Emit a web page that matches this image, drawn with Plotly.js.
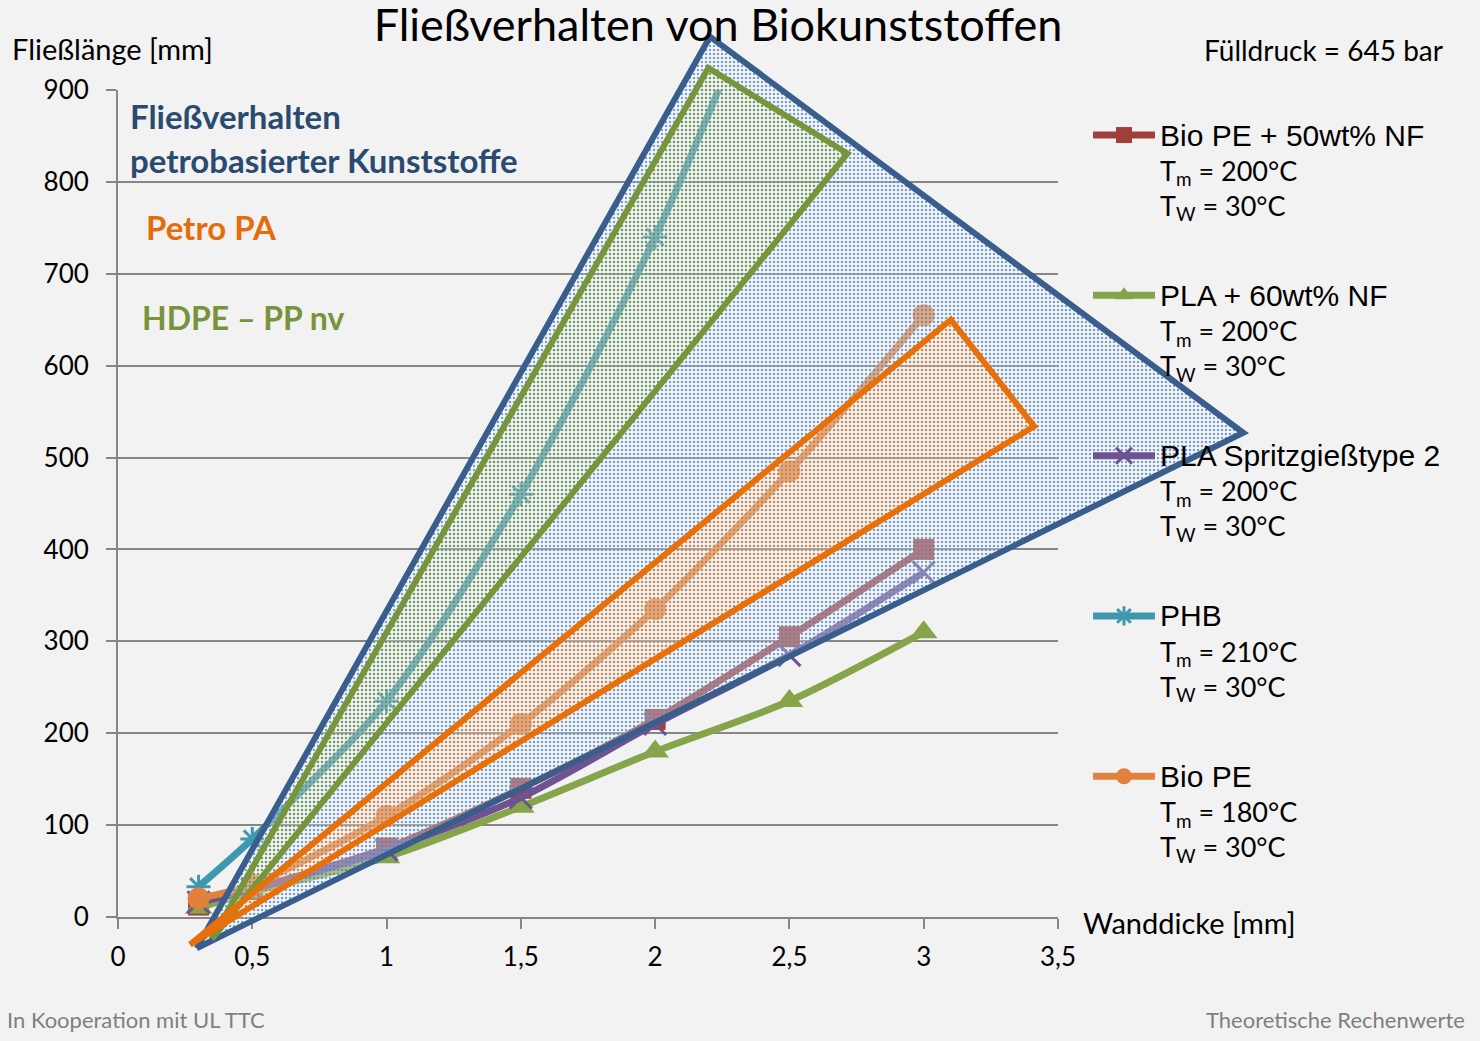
<!DOCTYPE html>
<html>
<head>
<meta charset="utf-8">
<script src="https://cdn.plot.ly/plotly-3.0.1.min.js"></script>
<style>html,body{margin:0;padding:0;background:#F2F2F2;}#chart{width:1480px;height:1041px;}</style>
</head>
<body>
<div id="chart"></div>
<script>
// ---- data ----
const wallThickness = [0.3, 0.5, 1, 1.5, 2, 2.5, 3];
const bioPE50NF = [13, 30, 75, 140, 215, 305, 400];
const pla60NF = [10, 27, 65, 120, 180, 235, 310];
const plaSpritz = [16, 30, 73, 130, 210, 285, 375];
const phbThickness = [0.3, 0.5, 1, 1.5, 2, 2.5];
const phb = [33, 85, 235, 460, 740, 1090];
const bioPE = [20, 35, 110, 210, 335, 485, 655];

// regions (polygon corner values: Wanddicke, Fließlänge)
const petroX = [0.293, 2.204, 4.19, 0.293];
const petroY = [-34, 958, 527, -34];
const hdpeX = [0.349, 2.198, 2.716, 0.349];
const hdpeY = [-24, 924, 831, -24];
const paX = [0.268, 3.101, 3.411, 0.268];
const paY = [-30, 650, 534, -30];

const seriesNames = [
  'Bio PE + 50wt% NF', 'PLA + 60wt% NF', 'PLA Spritzgießtype 2', 'PHB', 'Bio PE'
];
const meltTemps = ['200', '200', '200', '210', '180'];
const wallTemps = ['30', '30', '30', '30', '30'];
const xTickVals = [0, 0.5, 1, 1.5, 2, 2.5, 3, 3.5];
const yTickVals = [0, 100, 200, 300, 400, 500, 600, 700, 800, 900];

// ---- geometry ----
const W = 1480, H = 1041;
const pxL = 118, pxR = 1058, pxT = 90, pxB = 917;
const xMax = 3.5, yMax = 900;
const kx = (pxR - pxL) / xMax, ky = (pxB - pxT) / yMax;
const x2range = [-pxL / kx, (W - pxL) / kx];
const y2range = [(pxB - H) / ky, pxB / ky];

const calib = 'Lato, "Open Sans", sans-serif';
const arial = '"Liberation Sans", Arial, sans-serif';

function legendName(i) {
  return '<span style="font-size:30px">' + seriesNames[i] + '</span>' +
    '<br><span style="font-family:Lato">T<sub>m</sub> = ' + meltTemps[i] + '°C</span>' +
    '<br><span style="font-family:Lato">T<sub>W</sub> = ' + wallTemps[i] + '°C</span>';
}

const seriesColors = ['#A23F3C', '#86A44A', '#6D5392', '#3F97B0', '#E0823D'];

function series(i, xs, ys, symbol, msize, extraMarker) {
  return {
    type: 'scatter', mode: 'lines+markers',
    x: xs, y: ys, name: legendName(i), legendgroup: 'g' + i,
    xaxis: 'x', yaxis: 'y', cliponaxis: true,
    line: {color: seriesColors[i], width: 7, shape: 'spline', smoothing: 0.8},
    marker: Object.assign({symbol: symbol, size: msize, color: seriesColors[i]}, extraMarker || {}),
    hoverinfo: 'x+y'
  };
}

const traces = [
  series(0, wallThickness, bioPE50NF, 'square', 21),
  series(1, wallThickness, pla60NF, 'triangle-up', 24),
  series(2, wallThickness, plaSpritz, 'x-thin-open', 22, {line: {color: seriesColors[2], width: 3}}),
  series(3, phbThickness, phb, 'asterisk-open', 20, {line: {color: seriesColors[3], width: 3}}),
  series(4, wallThickness, bioPE, 'circle', 22)
];

function region(xs, ys, lineColor, dotColor, bg, sol) {
  return {
    type: 'scatter', mode: 'lines', x: xs, y: ys,
    xaxis: 'x2', yaxis: 'y2', fill: 'toself',
    fillcolor: 'rgba(0,0,0,0)',
    fillpattern: {shape: '.', fgcolor: dotColor, bgcolor: bg, size: 4, solidity: sol},
    line: {color: lineColor, width: 6},
    showlegend: false, hoverinfo: 'skip'
  };
}
traces.push(region(petroX, petroY, '#3A5E8C', 'rgba(79,129,189,0.75)', 'rgba(255,255,255,0.3)', 0.3));
traces.push(region(hdpeX, hdpeY, '#77963C', 'rgba(119,150,60,0.7)', 'rgba(0,0,0,0)', 0.3));
traces.push(region(paX, paY, '#E8700A', 'rgba(240,130,40,0.7)', 'rgba(0,0,0,0)', 0.3));

const tickFont = {family: calib, size: 26, color: '#000'};

const layout = {
  width: W, height: H,
  paper_bgcolor: '#F2F2F2', plot_bgcolor: 'rgba(0,0,0,0)',
  margin: {l: 0, r: 0, t: 0, b: 0, pad: 0},
  separators: ', ',
  showlegend: true,
  title: {text: 'Fließverhalten von Biokunststoffen', font: {family: calib, size: 45, color: '#000'},
          x: 718 / W, xref: 'paper', xanchor: 'center', y: 1 - 25 / H, yref: 'container', yanchor: 'middle'},
  xaxis: {
    domain: [pxL / W, pxR / W], range: [0, xMax], anchor: 'y',
    tickvals: xTickVals, ticks: 'outside', ticklen: 10, tickwidth: 2, tickcolor: '#868686',
    showline: true, linecolor: '#868686', linewidth: 2, showgrid: false, zeroline: false,
    tickfont: tickFont, ticklabelstandoff: 6, fixedrange: true
  },
  yaxis: {
    domain: [(H - pxB) / H, (H - pxT) / H], range: [0, yMax], anchor: 'x',
    tickvals: yTickVals, ticks: 'outside', ticklen: 10, tickwidth: 2, tickcolor: '#868686',
    showline: true, linecolor: '#868686', linewidth: 2,
    showgrid: true, gridcolor: '#868686', gridwidth: 2, zeroline: false,
    tickfont: tickFont, ticklabelstandoff: 12, fixedrange: true
  },
  xaxis2: {domain: [0, 1], range: x2range, anchor: 'y2', visible: false, fixedrange: true},
  yaxis2: {domain: [0, 1], range: y2range, anchor: 'x2', visible: false, fixedrange: true},
  legend: {
    x: 1088 / W, xanchor: 'left', y: 1 - 111 / H, yanchor: 'top',
    bgcolor: 'rgba(0,0,0,0)', borderwidth: 0,
    font: {family: arial, size: 27, color: '#000'},
    traceorder: 'grouped', tracegroupgap: 52, itemwidth: 62, valign: 'top'
  },
  annotations: [
    {text: 'Fließlänge [mm]', x: 10 / W, y: 1 - 48 / H, xref: 'paper', yref: 'paper',
     xanchor: 'left', yanchor: 'middle', showarrow: false, font: {family: calib, size: 29, color: '#000'}},
    {text: 'Wanddicke [mm]', x: 1081 / W, y: 1 - 922 / H, xref: 'paper', yref: 'paper',
     xanchor: 'left', yanchor: 'middle', showarrow: false, font: {family: calib, size: 29, color: '#000'}},
    {text: 'Fülldruck = 645 bar', x: 1445 / W, y: 1 - 50 / H, xref: 'paper', yref: 'paper',
     xanchor: 'right', yanchor: 'middle', showarrow: false, font: {family: calib, size: 28, color: '#000'}},
    {text: 'In Kooperation mit UL TTC', x: 5 / W, y: 1 - 1019 / H, xref: 'paper', yref: 'paper',
     xanchor: 'left', yanchor: 'middle', showarrow: false, font: {family: calib, size: 22, color: '#7F7F7F'}},
    {text: 'Theoretische Rechenwerte', x: 1467 / W, y: 1 - 1019 / H, xref: 'paper', yref: 'paper',
     xanchor: 'right', yanchor: 'middle', showarrow: false, font: {family: calib, size: 22, color: '#7F7F7F'}},
    {text: '<b>Fließverhalten</b>', x: 128 / W, y: 1 - 116 / H, xref: 'paper', yref: 'paper',
     xanchor: 'left', yanchor: 'middle', showarrow: false, font: {family: calib, size: 33, color: '#2A4A70'}},
    {text: '<b>petrobasierter Kunststoffe</b>', x: 128 / W, y: 1 - 160 / H, xref: 'paper', yref: 'paper',
     xanchor: 'left', yanchor: 'middle', showarrow: false, font: {family: calib, size: 33, color: '#2A4A70'}},
    {text: '<b>Petro PA</b>', x: 144 / W, y: 1 - 227 / H, xref: 'paper', yref: 'paper',
     xanchor: 'left', yanchor: 'middle', showarrow: false, font: {family: calib, size: 33, color: '#E46C0A'}},
    {text: '<b>HDPE – PP nv</b>', x: 140 / W, y: 1 - 317 / H, xref: 'paper', yref: 'paper',
     xanchor: 'left', yanchor: 'middle', showarrow: false, font: {family: calib, size: 32, color: '#77933C'}}
  ]
};

Plotly.newPlot('chart', traces, layout, {displayModeBar: false, staticPlot: true});
</script>
</body>
</html>
